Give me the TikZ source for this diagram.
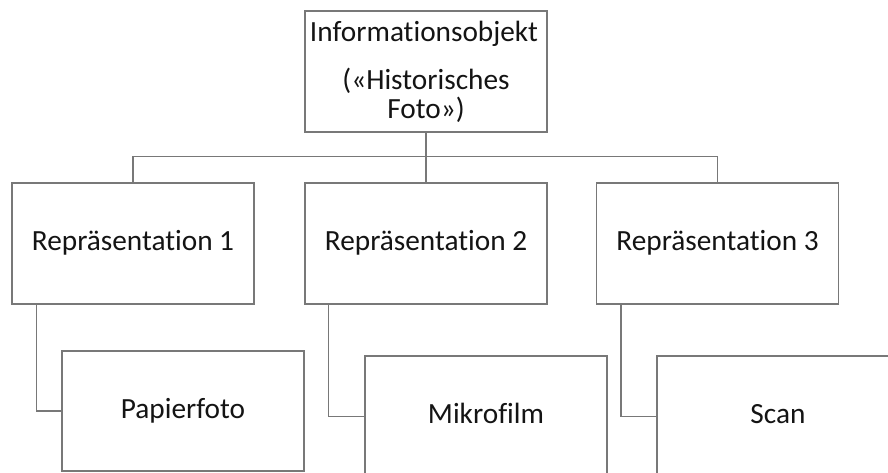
\documentclass[tikz,border=0pt]{standalone}
\usepackage{fontspec}
\setmainfont[RawFeature={-liga;-clig;-dlig}]{Carlito}
\definecolor{linegray}{RGB}{120,120,120}
\definecolor{textdark}{RGB}{20,20,20}
\begin{document}
\begin{tikzpicture}[x=1pt,y=-1pt,
  box/.style={draw=linegray, line width=1.3pt, fill=white, rectangle, inner sep=0pt,
    minimum width=242pt, minimum height=121pt, text=textdark,
    font=\fontsize{29.3}{35}\selectfont, text height=20pt, text depth=5.6pt},
  txt/.style={inner sep=0pt, text=textdark, font=\fontsize{29.3}{35}\selectfont},
  conn/.style={draw=linegray, line width=1.3pt}]
\useasboundingbox (0,0) rectangle (888,472);
\fill[white] (0,0) rectangle (888,472);
\clip (0,0) rectangle (888,472);

% top node
\node[box] (top) at (426,71.5) {};
\node[txt, anchor=base] (t1) at (424,41) {Informationsobjekt};
\node[txt, anchor=base] (t2) at (426,89) {(«Historisches};
\node[txt, anchor=base] (t3) at (426,118) {Foto»)};

% second row
\node[box] (r1) at (133,243.5) {Repräsentation 1};
\node[box] (r2) at (426,243.5) {Repräsentation 2};
\node[box] (r3) at (717.5,243.5) {Repräsentation 3};

% third row
\node[box, minimum height=120pt] (p1) at (183,411) {Papierfoto};
\node[box] (m1) at (486,416.5) {Mikrofilm};
\node[box] (s1) at (778,416.5) {Scan};

% connectors
\draw[conn] (top.south) -- (r2.north);
\draw[conn] (r1.north) -- ++(0,-26) -| (r3.north);
\draw[conn] ([xshift=25pt]r1.south west) |- (p1.west);
\draw[conn] ([xshift=24pt]r2.south west) |- (m1.west);
\draw[conn] ([xshift=25pt]r3.south west) |- (s1.west);
\end{tikzpicture}
\end{document}
